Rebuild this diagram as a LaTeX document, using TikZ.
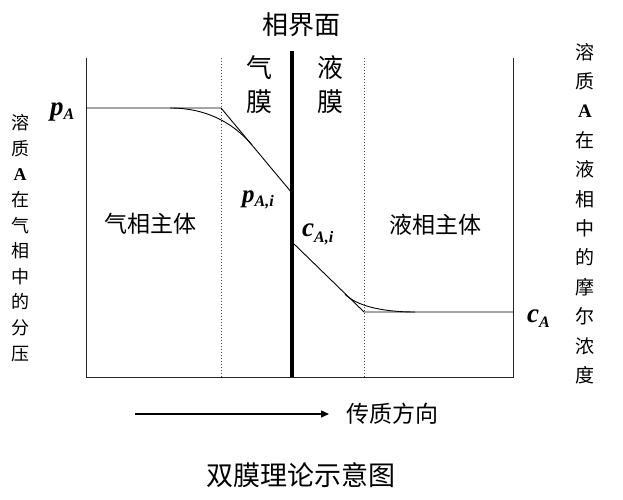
\documentclass[tikz,border=0pt]{standalone}
\usepackage{fontspec}
\setmainfont{Liberation Serif}
\newfontfamily\cjk{Noto Sans CJK SC}
\newfontfamily\tms{Liberation Serif}
\usetikzlibrary{arrows.meta}
\newcommand{\fsz}[1]{\fontsize{#1}{#1}\selectfont}
\newcommand{\mylab}[4]{{\tms\bfseries\itshape\fsz{#3}#1\raisebox{#4}{\fsz{16}#2}}}
\begin{document}
\begin{tikzpicture}[x=1pt,y=-1pt,
  thinline/.style={line width=1pt, draw=black!85},
  dotline/.style={line width=1pt, draw=black!70, dotted},
  thickline/.style={line width=4pt, draw=black},
  curve/.style={line width=0.9pt, draw=black},
  txt/.style={inner sep=0pt, font=\cjk},
  mathlab/.style={inner sep=0pt, anchor=base west}]
\useasboundingbox (0,0) rectangle (623,500);
% frame
\coordinate (tl) at (86,58);
\coordinate (bl) at (86,377);
\coordinate (br) at (513,377);
\coordinate (tr) at (513,58);
\coordinate (gt) at (221,58);
\coordinate (gb) at (221,377);
\coordinate (lt) at (364,58);
\coordinate (lb) at (364,377);
\coordinate (it) at (292,51);
\coordinate (ib) at (292,377);
\draw[thinline] (tl) -- (bl) -- (br) -- (tr);
\draw[dotline] (gt) -- (gb);
\draw[dotline] (lt) -- (lb);
\draw[thickline] (it) -- (ib);
% concentration profile
\coordinate (pa0) at (86,108);
\coordinate (pa1) at (221,108);
\coordinate (pai) at (292,193);
\coordinate (cai) at (292,242);
\coordinate (ca1) at (364,312);
\coordinate (ca0) at (513,312);
\draw[curve] (pa0) -- (pa1) -- (pai);
\draw[curve] (170,108) .. controls (210,108) and (236,126) .. (252,145);
\draw[curve] (cai) -- (ca1) -- (ca0);
\draw[curve] (345,294.3) .. controls (356,305.1) and (380,312) .. (415,312);
% labels
\node[txt, font=\cjk\fsz{26}] (jm) at (301,25) {相界面};
\node[txt, font=\cjk\fontsize{26}{34}\selectfont, align=center] (qm) at (259.5,85) {气\\膜};
\node[txt, font=\cjk\fontsize{26}{34}\selectfont, align=center] (ym) at (330,85) {液\\膜};
\node[txt, font=\cjk\fsz{23}] (qx) at (150,224) {气相主体};
\node[txt, font=\cjk\fsz{23}] (yx) at (435.5,225) {液相主体};
\node[mathlab] (pA) at (50,116) {\mylab{p}{A}{27}{-3pt}};
\node[mathlab] (pAi) at (242,202) {\mylab{p}{A,i}{25}{-4pt}};
\node[mathlab] (cAi) at (302,236) {\mylab{c}{A,i}{27}{-6pt}};
\node[mathlab] (cA) at (527,322) {\mylab{c}{A}{27}{-5pt}};
% vertical texts
\node[txt, font=\cjk\fontsize{18}{25.6}\selectfont, align=center] (lv) at (20,238) {溶\\质\\{\tms\bfseries A}\\在\\气\\相\\中\\的\\分\\压};
\node[txt, font=\cjk\fontsize{19}{29.4}\selectfont, align=center] (rv) at (585,213.5) {溶\\质\\{\tms\bfseries A}\\在\\液\\相\\中\\的\\摩\\尔\\浓\\度};
% direction arrow
\coordinate (as) at (135,414);
\coordinate (ae) at (329,414);
\draw[line width=1.3pt, -{Triangle[length=8pt,width=7pt]}] (as) -- (ae);
\node[txt, font=\cjk\fsz{23}] (dir) at (392,414) {传质方向};
% caption
\node[txt, font=\cjk\fsz{27}] (cap) at (301,475) {双膜理论示意图};
\end{tikzpicture}
\end{document}
